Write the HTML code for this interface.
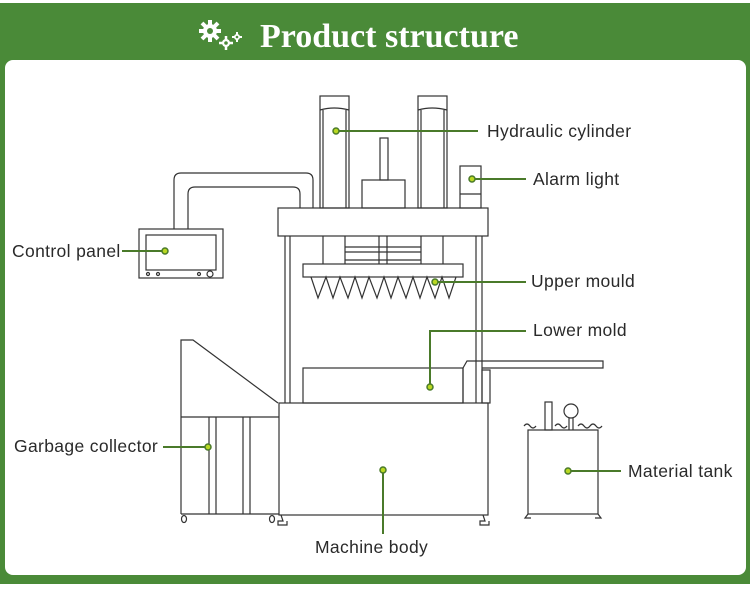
<!DOCTYPE html>
<html><head><meta charset="utf-8"><style>
html,body{margin:0;padding:0;background:#fff}
svg{display:block}
text{font-family:"Liberation Sans",sans-serif;font-size:17.5px;letter-spacing:0.35px;fill:#2a2a2a}
</style></head><body>
<svg width="750" height="589" viewBox="0 0 750 589" xmlns="http://www.w3.org/2000/svg">
<rect x="0" y="3" width="750" height="581" fill="#4a8a38"/>
<rect x="5" y="60" width="741" height="515" rx="8" fill="#fff"/>
<g fill="#fff">
<circle cx="210" cy="31" r="7"/>
<g stroke="#fff" stroke-width="4"><line x1="210" y1="20" x2="210" y2="42"/><line x1="199" y1="31" x2="221" y2="31"/><line x1="202" y1="23" x2="218" y2="39"/><line x1="202" y1="39" x2="218" y2="23"/></g>
<circle cx="226" cy="43" r="4"/>
<g stroke="#fff" stroke-width="2.5"><line x1="226" y1="36" x2="226" y2="50"/><line x1="219" y1="43" x2="233" y2="43"/></g>
<circle cx="237" cy="37" r="3"/>
<g stroke="#fff" stroke-width="2"><line x1="237" y1="32" x2="237" y2="42"/><line x1="232" y1="37" x2="242" y2="37"/></g>
</g>
<circle cx="210" cy="31" r="3" fill="#4a8a38"/><circle cx="226" cy="43" r="1.8" fill="#4a8a38"/><circle cx="237" cy="37" r="1.3" fill="#4a8a38"/>
<text x="260" y="47" style="font-family:'Liberation Serif',serif;font-size:34px;font-weight:bold;fill:#fff;letter-spacing:0px">Product structure</text>

<g fill="none" stroke="#333" stroke-width="1.2">
<rect x="320" y="96" width="29" height="112"/><path d="M320 110 Q334 106 349 110"/><line x1="323" y1="110" x2="323" y2="208"/><line x1="346" y1="110" x2="346" y2="208"/>
<rect x="418" y="96" width="29" height="112"/><path d="M418 110 Q432 106 447 110"/><line x1="421" y1="110" x2="421" y2="208"/><line x1="444" y1="110" x2="444" y2="208"/>
<rect x="380" y="138" width="8" height="42"/>
<rect x="362" y="180" width="43" height="28"/>
<rect x="460" y="166" width="21" height="42"/><line x1="460" y1="194" x2="481" y2="194"/>
<path d="M174 229 V180 Q174 173 181 173 H306 Q313 173 313 180 V208"/>
<path d="M188 229 V194 Q188 187 195 187 H293 Q300 187 300 194 V208"/>
<rect x="139" y="229" width="84" height="49"/><rect x="146" y="235" width="70" height="35"/>
<circle cx="148" cy="274" r="1.5"/><circle cx="158" cy="274" r="1.5"/><circle cx="199" cy="274" r="1.5"/><circle cx="210" cy="274" r="3"/>
<rect x="278" y="208" width="210" height="28"/>
<line x1="285" y1="236" x2="285" y2="403"/><line x1="290" y1="236" x2="290" y2="403"/>
<line x1="476" y1="236" x2="476" y2="403"/><line x1="482" y1="236" x2="482" y2="403"/>
<line x1="323" y1="236" x2="323" y2="264"/><line x1="345" y1="236" x2="345" y2="264"/>
<line x1="379" y1="236" x2="379" y2="264"/><line x1="387" y1="236" x2="387" y2="264"/>
<line x1="421" y1="236" x2="421" y2="264"/><line x1="443" y1="236" x2="443" y2="264"/>
<line x1="345" y1="247" x2="421" y2="247"/><line x1="345" y1="252" x2="421" y2="252"/><line x1="345" y1="260" x2="421" y2="260"/>
<rect x="303" y="264" width="160" height="13"/>
<path d="M311 277 L318 298 L326 277 L333 298 L340 277 L348 298 L355 277 L362 298 L369 277 L377 298 L384 277 L391 298 L398 277 L406 298 L413 277 L420 298 L427 277 L435 298 L442 277 L449 298 L456 277"/>
<path d="M181 514 V340 H193 L278 403"/>
<line x1="181" y1="417" x2="279" y2="417"/>
<line x1="209" y1="417" x2="209" y2="514"/><line x1="216" y1="417" x2="216" y2="514"/>
<line x1="243" y1="417" x2="243" y2="514"/><line x1="250" y1="417" x2="250" y2="514"/>
<line x1="181" y1="514" x2="279" y2="514"/>
<ellipse cx="184" cy="519" rx="2.5" ry="3.5"/><ellipse cx="272" cy="519" rx="2.5" ry="3.5"/>
<rect x="279" y="403" width="209" height="112"/>
<path d="M281 515 L283 521 H278 V525 H287 V521"/><path d="M483 515 L485 521 H480 V525 H489 V521"/>
<rect x="303" y="368" width="160" height="35"/>
<path d="M463 403 V368 L467 361 H603 V368 H482"/>
<rect x="482" y="370" width="8" height="33"/>
<rect x="528" y="430" width="70" height="84"/>
<rect x="545" y="402" width="7" height="28"/>
<circle cx="571" cy="411" r="7"/><line x1="569" y1="418" x2="569" y2="430"/><line x1="573" y1="418" x2="573" y2="430"/>
<path d="M524 426 q3 -4 6 0 q3 4 6 0 M555 426 q3 -4 6 0 q3 4 6 0 M578 426 q3 -4 6 0 q3 4 6 0 q3 -4 6 0 q3 4 6 0"/>
<path d="M528 514 l-3 4 h6 M598 514 l3 4 h-6"/>
</g>

<g stroke="#4a7a2a" stroke-width="2" fill="none">
<line x1="336" y1="131" x2="478" y2="131"/>
<line x1="472" y1="179" x2="526" y2="179"/>
<line x1="122" y1="251" x2="165" y2="251"/>
<line x1="435" y1="282" x2="526" y2="282"/>
<polyline points="430,387 430,331 526,331"/>
<line x1="163" y1="447" x2="208" y2="447"/>
<line x1="383" y1="470" x2="383" y2="534"/>
<line x1="568" y1="471" x2="621" y2="471"/>
</g>
<g fill="#b9d822" stroke="#4a7a2a" stroke-width="1.5">
<circle cx="336" cy="131" r="3"/><circle cx="472" cy="179" r="3"/><circle cx="165" cy="251" r="3"/>
<circle cx="435" cy="282" r="3"/><circle cx="430" cy="387" r="3"/><circle cx="208" cy="447" r="3"/>
<circle cx="383" cy="470" r="3"/><circle cx="568" cy="471" r="3"/>
</g>
<text x="487" y="137">Hydraulic cylinder</text>
<text x="533" y="185">Alarm light</text>
<text x="12" y="257">Control panel</text>
<text x="531" y="287">Upper mould</text>
<text x="533" y="336">Lower mold</text>
<text x="14" y="452">Garbage collector</text>
<text x="315" y="553">Machine body</text>
<text x="628" y="477">Material tank</text>
</svg>
</body></html>
